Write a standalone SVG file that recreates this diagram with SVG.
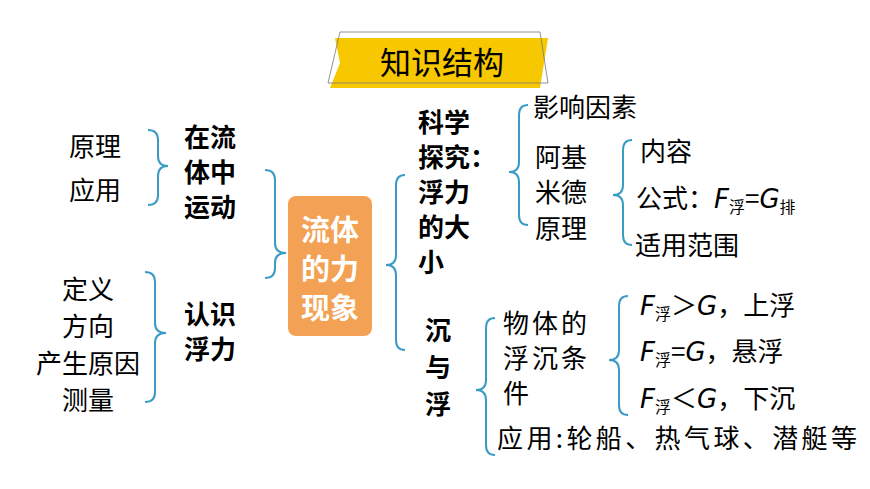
<svg xmlns="http://www.w3.org/2000/svg" width="870" height="489" viewBox="0 0 870 489">
<style>
text{font-family:"Noto Sans CJK SC","Noto Sans",sans-serif;fill:#000}
.t{font-size:26px}
.b{font-size:26px;font-weight:bold}
.w{font-size:29px;fill:#fff;font-weight:bold}
.br{fill:none;stroke:#3a9cc4;stroke-width:2}
.f{font-family:"DejaVu Sans",sans-serif;font-style:italic}
.s{font-size:16px}
</style>
<rect width="870" height="489" fill="#fff"/>
<g id="title">
<polygon points="335,38 548,38 540,88 330,88 340,63" fill="#f7c800"/>
<polygon points="340,32 540,32 548,83 328,83" fill="none" stroke="#777" stroke-width="0.8"/>
<text x="442" y="74" text-anchor="middle" style="font-size:31px" >知识结构</text>
</g>
<g id="center">
<rect x="288" y="196" width="84" height="140" rx="8" fill="#f3a154"/>
<text class="w" x="330" y="241" text-anchor="middle">流体</text>
<text class="w" x="330" y="280" text-anchor="middle">的力</text>
<text class="w" x="330" y="319" text-anchor="middle">现象</text>
</g>
<g id="connectors">
<path class="br" d="M265,170 Q275,170 275,180 L275,243 Q275,253 286,253 Q275,253 275,263 L275,268 Q275,278 265,278"/>
<path class="br" d="M148,130 Q158,130 158,140 L158,156 Q158,166 168,166 Q158,166 158,176 L158,195 Q158,205 148,205"/>
<path class="br" d="M145,272 Q155,272 155,282 L155,323 Q155,333 166,333 Q155,333 155,343 L155,392 Q155,402 145,402"/>
<path class="br" d="M405,175 Q396,175 396,185 L396,255 Q396,265 386,265 Q396,265 396,275 L396,340 Q396,350 405,350"/>
<path class="br" d="M528,105 Q519,105 519,115 L519,162 Q519,172 509,172 Q519,172 519,182 L519,215 Q519,225 528,225"/>
<path class="br" d="M632,140 Q623,140 623,150 L623,185 Q623,195 613,195 Q623,195 623,205 L623,235 Q623,245 632,245"/>
<path class="br" d="M495,318 Q486,318 486,328 L486,380 Q486,390 476,390 Q486,390 486,400 L486,445 Q486,455 495,455"/>
<path class="br" d="M628,296 Q619,296 619,306 L619,350 Q619,360 609,360 Q619,360 619,370 L619,405 Q619,415 628,415"/>
</g>
<g id="n-left1">
<text class="b" x="210" y="147" text-anchor="middle">在流</text>
<text class="b" x="210" y="182" text-anchor="middle">体中</text>
<text class="b" x="210" y="217" text-anchor="middle">运动</text>
<text class="t" x="95" y="156" text-anchor="middle">原理</text>
<text class="t" x="95" y="200" text-anchor="middle">应用</text>
</g>
<g id="n-left2">
<text class="b" x="210" y="324" text-anchor="middle">认识</text>
<text class="b" x="210" y="359" text-anchor="middle">浮力</text>
<text class="t" x="88" y="299" text-anchor="middle">定义</text>
<text class="t" x="88" y="336" text-anchor="middle">方向</text>
<text class="t" x="88" y="373" text-anchor="middle">产生原因</text>
<text class="t" x="88" y="410" text-anchor="middle">测量</text>
</g>
<g id="n-explore">
<text class="b" x="418" y="132">科学</text>
<text class="b" x="418" y="167">探究：</text>
<text class="b" x="418" y="202">浮力</text>
<text class="b" x="418" y="237">的大</text>
<text class="b" x="418" y="272">小</text>
<text class="t" x="533" y="117">影响因素</text>
<text class="t" x="535" y="167">阿基</text>
<text class="t" x="535" y="202">米德</text>
<text class="t" x="535" y="238">原理</text>
<text class="t" x="640" y="161">内容</text>
<text class="t" x="636" y="208">公式：<tspan class="f">F</tspan><tspan class="s" dy="5">浮</tspan><tspan dy="-5">=</tspan><tspan class="f">G</tspan><tspan class="s" dy="5">排</tspan></text>
<text class="t" x="635" y="255">适用范围</text>
</g>
<g id="n-sink">
<text class="b" x="425" y="340">沉</text>
<text class="b" x="425" y="377">与</text>
<text class="b" x="425" y="414">浮</text>
<text class="t" x="503" y="333" letter-spacing="3">物体的</text>
<text class="t" x="503" y="368" letter-spacing="3">浮沉条</text>
<text class="t" x="503" y="403">件</text>
<text class="t" x="640" y="315"><tspan class="f">F</tspan><tspan class="s" dy="5">浮</tspan><tspan dy="-5">＞</tspan><tspan class="f">G</tspan>，上浮</text>
<text class="t" x="640" y="361"><tspan class="f">F</tspan><tspan class="s" dy="5">浮</tspan><tspan dy="-5">=</tspan><tspan class="f">G</tspan>，悬浮</text>
<text class="t" x="640" y="408"><tspan class="f">F</tspan><tspan class="s" dy="5">浮</tspan><tspan dy="-5">＜</tspan><tspan class="f">G</tspan>，下沉</text>
<text class="t" x="497" y="448" textLength="360" lengthAdjust="spacing">应用:轮船、热气球、潜艇等</text>
</g>
</svg>
